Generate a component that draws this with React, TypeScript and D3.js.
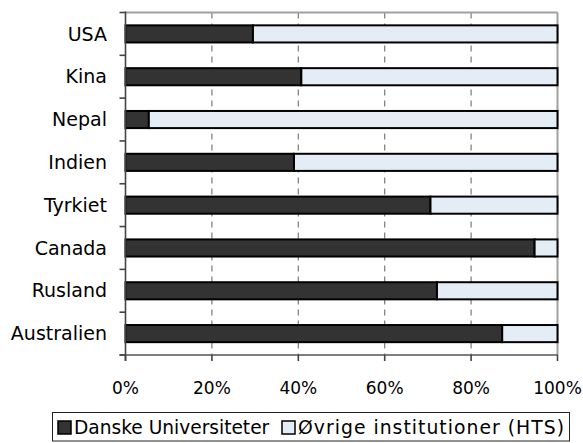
import React from "react";
import * as d3 from "d3";

const categories = ["USA", "Kina", "Nepal", "Indien", "Tyrkiet", "Canada", "Rusland", "Australien"];
const danskeUni = [29.5, 40.7, 5.4, 39.0, 70.6, 94.7, 72.1, 87.2];
const oevrige = danskeUni.map((v) => 100 - v);
const seriesNames = ["Danske Universiteter", "Øvrige institutioner (HTS)"];
const xTicks = [0, 20, 40, 60, 80, 100];

const W = 583;
const H = 443;
const FONT = "DejaVu Sans, sans-serif";
const DARK = "#333333";
const LIGHT = "#e4ecf5";

export default function App() {
  const x0 = 125.5, x1 = 557.5, y0 = 12.5, y1 = 355;
  const x = d3.scaleLinear().domain([0, 100]).range([x0, x1]);
  const y = d3.scaleBand<string>().domain(categories).range([y0, y1]).paddingInner(0.6).paddingOuter(0.3);
  const step = y.step();
  const boundaries = d3.range(categories.length + 1).map((i) => y0 + i * step);

  return (
    <svg width={W} height={H} style={{ position: "absolute", left: 0, top: 0, background: "#fff" }} fontFamily={FONT}>
      {/* gridlines */}
      {xTicks.slice(1, -1).map((t) => (
        <line key={"g" + t} x1={x(t)} x2={x(t)} y1={y0} y2={y1} stroke="#7a7a7a" strokeWidth={1.2} strokeDasharray="6,5" />
      ))}
      {/* top & right border */}
      <line x1={x0} x2={x1} y1={y0} y2={y0} stroke="#a0a0a0" strokeWidth={2} />
      <line x1={x1} x2={x1} y1={y0} y2={y1} stroke="#a0a0a0" strokeWidth={2} />
      {/* bars */}
      {categories.map((c, i) => {
        const by = y(c)!;
        const bh = y.bandwidth();
        return (
          <g key={c}>
            <rect x={x(0)} y={by} width={x(danskeUni[i]) - x(0)} height={bh} fill={DARK} stroke="#000" strokeWidth={2} />
            <rect x={x(danskeUni[i])} y={by} width={x(danskeUni[i] + oevrige[i]) - x(danskeUni[i])} height={bh} fill={LIGHT} stroke="#000" strokeWidth={2} />
          </g>
        );
      })}
      {/* axes */}
      <line x1={x0} x2={x0} y1={y0 - 1} y2={y1 + 6} stroke="#444" strokeWidth={1.6} />
      <line x1={x0 - 6} x2={x1} y1={y1} y2={y1} stroke="#555" strokeWidth={1.6} />
      {boundaries.map((b, i) => (
        <line key={"yt" + i} x1={x0 - 6} x2={x0} y1={b} y2={b} stroke="#444" strokeWidth={1.6} />
      ))}
      {xTicks.map((t) => (
        <line key={"xt" + t} x1={x(t)} x2={x(t)} y1={y1} y2={y1 + 6} stroke="#444" strokeWidth={1.6} />
      ))}
      {/* y labels */}
      {categories.map((c) => (
        <text key={"yl" + c} x={107} y={y(c)! + y.bandwidth() / 2} dy="0.35em" textAnchor="end" fontSize={19} fill="#000">
          {c}
        </text>
      ))}
      {/* x labels */}
      {xTicks.map((t) => (
        <text key={"xl" + t} x={x(t)} y={388} dy="0.35em" textAnchor="middle" fontSize={17} fill="#000">
          {t}%
        </text>
      ))}
      {/* legend */}
      <rect x={52.5} y={412.5} width={517} height={28.5} fill="#fff" stroke="#222" strokeWidth={1} />
      <rect x={58} y={421} width={13} height={13} fill={DARK} stroke="#000" strokeWidth={1.5} />
      <text x={74} y={427.5} dy="0.35em" fontSize={18.6} fill="#000">{seriesNames[0]}</text>
      <rect x={282} y={421} width={13} height={13} fill={LIGHT} stroke="#000" strokeWidth={1.5} />
      <text x={298} y={427.5} dy="0.35em" fontSize={18.8} fill="#000" textLength={266} lengthAdjust="spacing">{seriesNames[1]}</text>
    </svg>
  );
}
